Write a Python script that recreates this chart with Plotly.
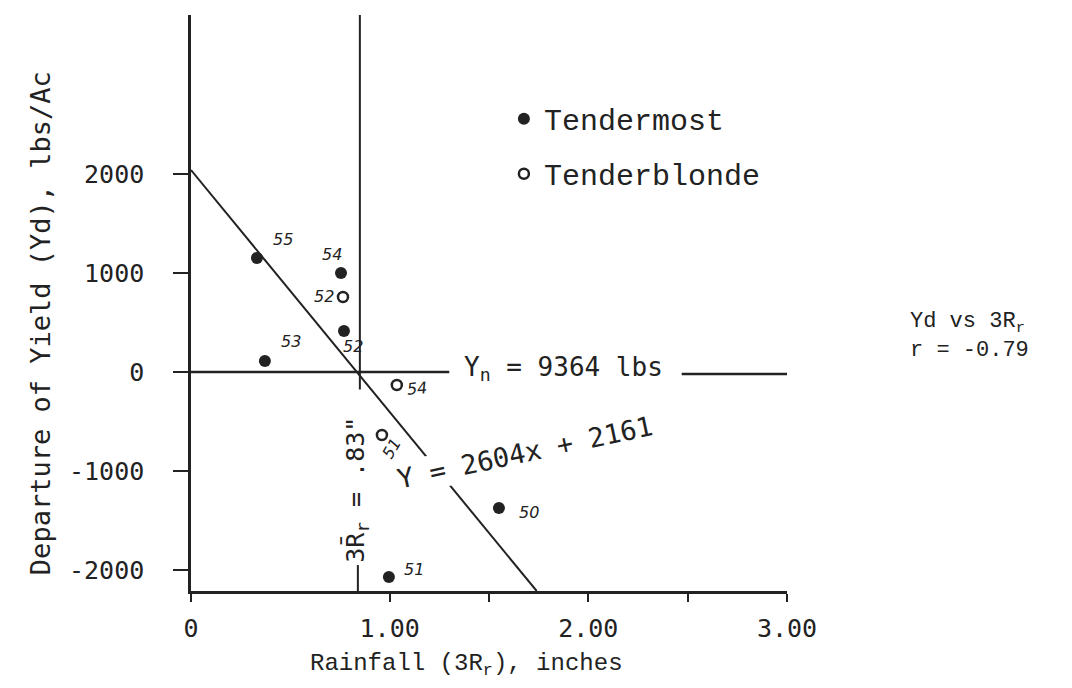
import plotly.graph_objects as go

# ---------------- data ----------------
tm_x = [0.332, 0.755, 0.770, 0.372, 0.996, 1.55]
tm_y = [1152, 1000, 414, 111, -2071, -1374]
tm_year = ["55", "54", "52", "53", "51", "50"]

tb_x = [0.765, 1.036, 0.961]
tb_y = [758, -131, -636]
tb_year = ["52", "54", "51"]

fit_x = [0.0, 1.74]
fit_y = [2040, -2212]

mean_rain = 0.85          # drawn position of the 3R mean line (.83")
x_ticks = [0, 1.0, 1.5, 2.0, 2.5, 3.0]
x_ticktext = ["0", "1.00", "", "2.00", "", "3.00"]
y_ticks = [2000, 1000, 0, -1000, -2000]
y_ticktext = ["2000", "1000", "0", "-1000", "-2000"]

INK = "#222222"
MONO = "DejaVu Sans Mono"
TYPE = "Liberation Mono"

# label offsets (pixels) for the handwritten year labels
tm_off = [(26, 18, 0), (-9, 19, 0), (9, -15, 0), (26, 20, 0), (25, 8, 0), (30, -4, 0)]
tb_off = [(-19, 0, 0), (20, -4, -5), (10, -14, -60)]

fig = go.Figure()

fig.add_trace(go.Scatter(
    x=fit_x, y=fit_y, mode="lines", line=dict(color=INK, width=2),
    showlegend=False, hoverinfo="skip"))

fig.add_trace(go.Scatter(
    x=tm_x, y=tm_y, mode="markers", name="Tendermost", legendgroup="a",
    marker=dict(symbol="circle", size=12, color=INK)))

fig.add_trace(go.Scatter(
    x=tb_x, y=tb_y, mode="markers", name="Tenderblonde", legendgroup="b",
    marker=dict(symbol="circle-open", size=10, color=INK, line=dict(width=2.5, color=INK))))

shapes = [
    # zero (normal yield) line, broken for the label
    dict(type="line", xref="x", yref="y", x0=0, x1=1.30, y0=0, y1=0, line=dict(color=INK, width=2.5)),
    dict(type="line", xref="x", yref="y", x0=2.47, x1=3.0, y0=-20, y1=-20, line=dict(color=INK, width=2.5)),
    # mean rainfall vertical line, broken for the label
    dict(type="line", xref="x", yref="paper", x0=mean_rain, x1=mean_rain, y0=0.35, y1=1.0,
         line=dict(color=INK, width=2)),
    dict(type="line", xref="x", yref="y", x0=mean_rain - 0.01, x1=mean_rain - 0.01, y0=-1950, y1=-2212,
         line=dict(color=INK, width=2)),
]

annotations = []
lab_font = dict(family="DejaVu Sans", size=16, color=INK, style="italic")
for x, y, t, (dx, dy, ang) in zip(tm_x, tm_y, tm_year, tm_off):
    annotations.append(dict(x=x, y=y, xref="x", yref="y", text=t, showarrow=False,
                            xshift=dx, yshift=dy, textangle=ang, font=lab_font))
for x, y, t, (dx, dy, ang) in zip(tb_x, tb_y, tb_year, tb_off):
    annotations.append(dict(x=x, y=y, xref="x", yref="y", text=t, showarrow=False,
                            xshift=dx, yshift=dy, textangle=ang, font=lab_font))

annotations += [
    dict(x=1.877, y=40, xref="x", yref="y", text="Y<sub>n</sub> = 9364 lbs", showarrow=False,
         xanchor="center", yanchor="middle", font=dict(family=MONO, size=26, color=INK)),
    dict(x=1.68, y=-818, xref="x", yref="y", text="Y = 2604x + 2161", showarrow=False,
         xanchor="center", yanchor="middle",
         textangle=-12, bgcolor="white", font=dict(family=MONO, size=27, color=INK)),
    dict(x=0.835, y=-1190, xref="x", yref="y", text="3R\u0304<sub>r</sub> = .83\"", showarrow=False,
         xanchor="center", yanchor="middle",
         textangle=-90, bgcolor="white", font=dict(family=MONO, size=25, color=INK)),
    dict(x=-0.2534, y=0.465, xref="paper", yref="paper", text="Departure of Yield (Yd), lbs/Ac",
         xanchor="center", yanchor="middle",
         showarrow=False, textangle=-90, font=dict(family=MONO, size=27, color=INK)),
    dict(x=0.463, y=-0.128, xref="paper", yref="paper", text="Rainfall (3R<sub>r</sub>), inches",
         xanchor="center", yanchor="middle",
         showarrow=False, font=dict(family=TYPE, size=24, color=INK)),
    dict(x=1.203, y=0.443, xref="paper", yref="paper", xanchor="left", yanchor="middle", align="left",
         text="Yd vs 3R<sub>r</sub><br>r = -0.79", showarrow=False,
         font=dict(family=TYPE, size=22, color=INK)),
]

fig.update_layout(
    width=1064, height=680,
    margin=dict(l=183, r=285, t=7, b=97),
    plot_bgcolor="white", paper_bgcolor="white",
    shapes=shapes, annotations=annotations,
    showlegend=True,
    legend=dict(x=0.525, y=0.865, xanchor="left", yanchor="top", bgcolor="rgba(0,0,0,0)",
                font=dict(family=TYPE, size=30, color=INK), tracegroupgap=13),
    xaxis=dict(range=[0, 3.0], showgrid=False, zeroline=False, showline=True, linecolor=INK,
               linewidth=2.5, ticks="outside", ticklen=8, tickwidth=2, tickcolor=INK,
               tickvals=x_ticks, ticktext=x_ticktext, ticklabelstandoff=5,
               tickfont=dict(family=MONO, size=25, color=INK)),
    yaxis=dict(range=[-2212, 3606], showgrid=False, zeroline=False, showline=True, linecolor=INK,
               linewidth=2.5, ticks="outside", ticklen=15, tickwidth=2, tickcolor=INK,
               tickvals=y_ticks, ticktext=y_ticktext, ticklabelstandoff=24,
               tickfont=dict(family=MONO, size=25, color=INK)),
)

fig.write_html("out.html")
